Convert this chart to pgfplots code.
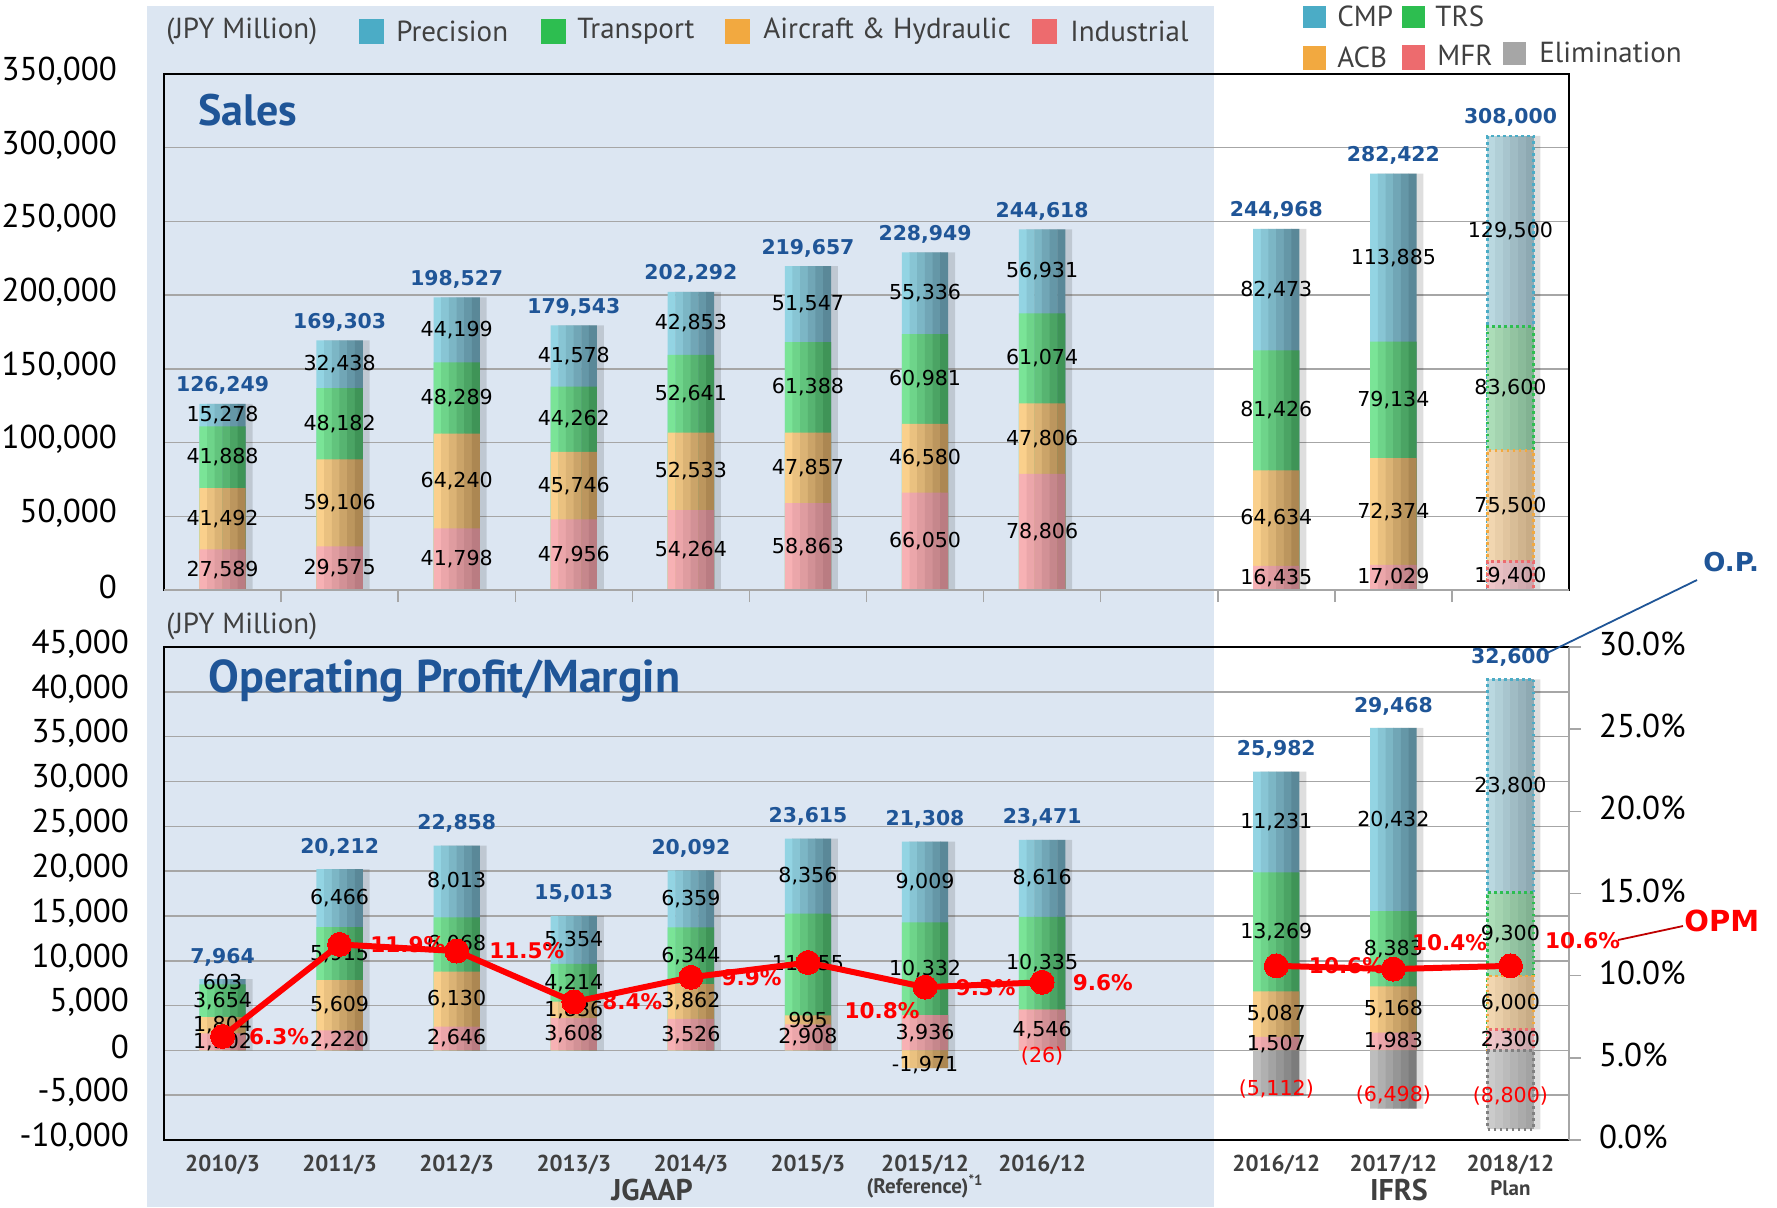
\documentclass[border=0pt]{standalone}
\usepackage{fontspec}
\setmainfont{PT Sans}
\newfontfamily\dv{DejaVu Sans}
\usepackage{pgfplots}
\usepackage{pgfplotstable}
\pgfplotsset{compat=1.18}

\definecolor{bgblue}{HTML}{DCE6F2}
\definecolor{ttl}{HTML}{1F5597}
\definecolor{txt}{HTML}{404040}
\definecolor{gridgray}{HTML}{A6A6A6}
\definecolor{cB}{HTML}{4BACC6}
\definecolor{cG}{HTML}{2DBE50}
\definecolor{cO}{HTML}{F2A940}
\definecolor{cR}{HTML}{ED6B6E}
\definecolor{cE}{HTML}{A6A6A6}
% bar gradients (left -> right)
\definecolor{bBl}{HTML}{93D4E3}\definecolor{bBr}{HTML}{5A8898}
\definecolor{bGl}{HTML}{7AE497}\definecolor{bGr}{HTML}{3F9457}
\definecolor{bOl}{HTML}{FAD08C}\definecolor{bOr}{HTML}{AC8752}
\definecolor{bRl}{HTML}{F7B1B4}\definecolor{bRr}{HTML}{BA7C82}
\definecolor{bEl}{HTML}{BDBDBD}\definecolor{bEr}{HTML}{7C7C7C}
% plan bars, paler
\definecolor{pBl}{HTML}{BAD8E0}\definecolor{pBr}{HTML}{8EA9B2}
\definecolor{pGl}{HTML}{ACDDB8}\definecolor{pGr}{HTML}{82B292}
\definecolor{pOl}{HTML}{F1D6B0}\definecolor{pOr}{HTML}{C8AC86}
\definecolor{pRl}{HTML}{EFC6C9}\definecolor{pRr}{HTML}{CCA6AB}
\definecolor{pEl}{HTML}{CBCBCB}\definecolor{pEr}{HTML}{A3A3A3}

\newcommand\tickfont{\fontsize{16.5}{18}\selectfont}
\newcommand\legfont{\fontsize{14.5}{16}\selectfont}
\newcommand\datfont{\dv\fontsize{10.3}{12}\selectfont}
\newcommand\totfont{\dv\bfseries\fontsize{10.2}{12}\selectfont}
\newcommand\pctfont{\dv\bfseries\fontsize{10.8}{12}\selectfont}

\pgfkeys{/pgf/number format/.cd, fixed, precision=0, 1000 sep={,}, assume math mode=true}

\pgfplotsset{
  lab/.style={draw=none, mark=none, nodes near coords, point meta=explicit,
    every node near coord/.append style={font=\datfont, text=black, anchor=center}},
  totlab/.style={draw=none, mark=none, nodes near coords, point meta=explicit,
    every node near coord/.append style={font=\totfont, text=ttl, anchor=south}},
  shadow/.style={ybar, bar width=23pt, bar shift=3.5pt, draw=none, fill=black, fill opacity=0.13},
  planedge/.style={ybar, bar width=23pt, bar shift=0pt, fill=none, draw=#1,
    line width=1.4pt, dash pattern=on 1.4pt off 1.6pt},
}

% a bar drawn as six vertical strips, light on the left, dark on the right
% #1 left colour, #2 right colour, #3 plot options, #4 table spec and table
\newcommand\gbar[4]{%
  \pgfplotsinvokeforeach{0,20,40,60,80,100}{%
    \addplot[ybar, draw=none, bar width=4pt, bar shift={(##1*0.05-2.5)*3.8333pt},
      fill=#2!##1!#1, #3] #4;
  }%
}

% sales by segment, JPY million (x = slot; 8 is the gap, 11 is the plan)
\pgfplotstableread{
x  mfr   acb   trs   cmp    tot
0  27589 41492 41888 15278  126249
1  29575 59106 48182 32438  169303
2  41798 64240 48289 44199  198527
3  47956 45746 44262 41578  179543
4  54264 52533 52641 42853  202292
5  58863 47857 61388 51547  219657
6  66050 46580 60981 55336  228949
7  78806 47806 61074 56931  244618
9  16435 64634 81426 82473  244968
10 17029 72374 79134 113885 282422
11 19400 75500 83600 129500 308000
}\sales

% operating profit by segment
\pgfplotstableread{
x  mfr  acb   trs   cmp   tot
0  1902 1804  3654  603   7964
1  2220 5609  5915  6466  20212
2  2646 6130  6068  8013  22858
3  3608 1836  4214  5354  15013
4  3526 3862  6344  6359  20092
5  2908 995   11355 8356  23615
6  3936 -1971 10332 9009  21308
7  4546 -26   10335 8616  23471
9  1507 5087  13269 11231 25982
10 1983 5168  8383  20432 29468
11 2300 6000  9300  23800 32600
}\op

\pgfplotstableread{
x v     lab
6 -1971 {-1,971}
7 -26   {(26)}
}\acbneg

\pgfplotstableread{
x  v     lab
9  -5112 {(5,112)}
10 -6498 {(6,498)}
11 -8800 {(8,800)}
}\elim

% operating margin, %
\pgfplotstableread{
x  opm  dx dy
0  6.3  10 0
1  11.9 12 0
2  11.5 13 0
3  8.4  11 0
4  9.9  12 0
5  10.8 15 -24
6  9.3  12 0
7  9.6  12 0
8  nan  0  0
9  10.6 13 0
10 10.4 6  13
11 10.6 14 12.5
}\opm

\begin{document}
\begin{tikzpicture}
\path[use as bounding box] (0,0) rectangle (888.5pt,-603.5pt);
\begin{scope}[x=0.5pt,y=-0.5pt]
  \fill[bgblue] (147,6) rectangle (1214,1207);
\end{scope}

% ---------------- Sales ----------------
\begin{axis}[
  at={(82pt,-37pt)}, anchor=north west,
  scale only axis, width=702.5pt, height=258pt,
  xmin=-0.5, xmax=11.5, ymin=0, ymax=350000,
  xtick={0.5,1.5,...,10.5}, xticklabel={\relax}, xtick pos=bottom,
  xtick style={draw=gridgray, line width=0.75pt},
  tick align=outside, major tick length=6pt,
  ytick={0,50000,100000,150000,200000,250000,300000,350000},
  scaled y ticks=false, ytick style={draw=none},
  yticklabel style={font=\tickfont, text=black, xshift=-14pt, yshift=1.5pt},
  ymajorgrids, grid style={draw=gridgray, line width=0.75pt},
  axis line style={black, line width=1.2pt},
  clip=false,
]
\addplot[shadow] table[x=x, y expr={\thisrow{mfr}+\thisrow{acb}+\thisrow{trs}+\thisrow{cmp}}] {\sales};
\gbar{bBl}{bBr}{restrict x to domain=-1:10.5}{table[x=x, y expr={\thisrow{mfr}+\thisrow{acb}+\thisrow{trs}+\thisrow{cmp}}] {\sales}}
\gbar{bGl}{bGr}{restrict x to domain=-1:10.5}{table[x=x, y expr={\thisrow{mfr}+\thisrow{acb}+\thisrow{trs}}] {\sales}}
\gbar{bOl}{bOr}{restrict x to domain=-1:10.5}{table[x=x, y expr={\thisrow{mfr}+\thisrow{acb}}] {\sales}}
\gbar{bRl}{bRr}{restrict x to domain=-1:10.5}{table[x=x, y=mfr] {\sales}}
% plan column: paler, dotted edges
\gbar{pBl}{pBr}{restrict x to domain=10.5:12}{table[x=x, y expr={\thisrow{mfr}+\thisrow{acb}+\thisrow{trs}+\thisrow{cmp}}] {\sales}}
\addplot[planedge=cB, restrict x to domain=10.5:12] table[x=x, y expr={\thisrow{mfr}+\thisrow{acb}+\thisrow{trs}+\thisrow{cmp}}] {\sales};
\gbar{pGl}{pGr}{restrict x to domain=10.5:12}{table[x=x, y expr={\thisrow{mfr}+\thisrow{acb}+\thisrow{trs}}] {\sales}}
\addplot[planedge=cG, restrict x to domain=10.5:12] table[x=x, y expr={\thisrow{mfr}+\thisrow{acb}+\thisrow{trs}}] {\sales};
\gbar{pOl}{pOr}{restrict x to domain=10.5:12}{table[x=x, y expr={\thisrow{mfr}+\thisrow{acb}}] {\sales}}
\addplot[planedge=cO, restrict x to domain=10.5:12] table[x=x, y expr={\thisrow{mfr}+\thisrow{acb}}] {\sales};
\gbar{pRl}{pRr}{restrict x to domain=10.5:12}{table[x=x, y=mfr] {\sales}}
\addplot[planedge=cR, restrict x to domain=10.5:12] table[x=x, y=mfr] {\sales};

\addplot[lab] table[x=x, y expr={\thisrow{mfr}/2}, meta=mfr] {\sales};
\addplot[lab] table[x=x, y expr={\thisrow{mfr}+\thisrow{acb}/2}, meta=acb] {\sales};
\addplot[lab] table[x=x, y expr={\thisrow{mfr}+\thisrow{acb}+\thisrow{trs}/2}, meta=trs] {\sales};
\addplot[lab] table[x=x, y expr={\thisrow{mfr}+\thisrow{acb}+\thisrow{trs}+\thisrow{cmp}/2}, meta=cmp] {\sales};
\addplot[totlab, every node near coord/.append style={yshift=1pt}]
  table[x=x, y expr={\thisrow{mfr}+\thisrow{acb}+\thisrow{trs}+\thisrow{cmp}}, meta=tot] {\sales};

\draw[gridgray, line width=1.2pt] (rel axis cs:0,0) -- (rel axis cs:1,0);
\end{axis}

% ---------------- Operating profit ----------------
\begin{axis}[
  at={(82pt,-323.5pt)}, anchor=north west,
  scale only axis, width=702.5pt, height=246.5pt,
  xmin=-0.5, xmax=11.5, ymin=-10000, ymax=45000,
  xtick={0,1,2,3,4,5,6,7,9,10,11},
  xticklabels={2010/3,2011/3,2012/3,2013/3,2014/3,2015/3,
    {2015/12\\[-2pt]{\fontsize{10.5}{11}\selectfont(Reference)\textsuperscript{*1}}},
    2016/12,2016/12,2017/12,{2018/12\\[-1pt]{\fontsize{10.5}{11}\selectfont Plan}}},
  xticklabel style={font=\bfseries\fontsize{11.5}{13}\selectfont, text=txt, align=center, yshift=-4pt},
  xtick style={draw=none},
  ytick={-10000,-5000,0,5000,10000,15000,20000,25000,30000,35000,40000,45000},
  scaled y ticks=false, ytick style={draw=none},
  yticklabel style={font=\tickfont, text=black, xshift=-14pt, yshift=1.5pt},
  ymajorgrids, grid style={draw=gridgray, line width=0.75pt},
  axis line style={black, line width=1.2pt},
  clip=false,
]
\addplot[shadow] table[x=x, y expr={\thisrow{mfr}+max(\thisrow{acb},0)+\thisrow{trs}+\thisrow{cmp}}] {\op};
\addplot[shadow] table[x=x, y=v] {\elim};
\addplot[shadow] table[x=x, y=v] {\acbneg};
\gbar{bBl}{bBr}{restrict x to domain=-1:10.5}{table[x=x, y expr={\thisrow{mfr}+max(\thisrow{acb},0)+\thisrow{trs}+\thisrow{cmp}}] {\op}}
\gbar{bGl}{bGr}{restrict x to domain=-1:10.5}{table[x=x, y expr={\thisrow{mfr}+max(\thisrow{acb},0)+\thisrow{trs}}] {\op}}
\gbar{bOl}{bOr}{restrict x to domain=-1:10.5}{table[x=x, y expr={\thisrow{mfr}+max(\thisrow{acb},0)}] {\op}}
\gbar{bRl}{bRr}{restrict x to domain=-1:10.5}{table[x=x, y=mfr] {\op}}
% negative parts, down from zero
\gbar{bOl}{bOr}{}{table[x=x, y=v] {\acbneg}}
\gbar{bEl}{bEr}{restrict x to domain=-1:10.5}{table[x=x, y=v] {\elim}}
% plan column
\gbar{pBl}{pBr}{restrict x to domain=10.5:12}{table[x=x, y expr={\thisrow{mfr}+\thisrow{acb}+\thisrow{trs}+\thisrow{cmp}}] {\op}}
\addplot[planedge=cB, restrict x to domain=10.5:12] table[x=x, y expr={\thisrow{mfr}+\thisrow{acb}+\thisrow{trs}+\thisrow{cmp}}] {\op};
\gbar{pGl}{pGr}{restrict x to domain=10.5:12}{table[x=x, y expr={\thisrow{mfr}+\thisrow{acb}+\thisrow{trs}}] {\op}}
\addplot[planedge=cG, restrict x to domain=10.5:12] table[x=x, y expr={\thisrow{mfr}+\thisrow{acb}+\thisrow{trs}}] {\op};
\gbar{pOl}{pOr}{restrict x to domain=10.5:12}{table[x=x, y expr={\thisrow{mfr}+\thisrow{acb}}] {\op}}
\addplot[planedge=cO, restrict x to domain=10.5:12] table[x=x, y expr={\thisrow{mfr}+\thisrow{acb}}] {\op};
\gbar{pRl}{pRr}{restrict x to domain=10.5:12}{table[x=x, y=mfr] {\op}}
\addplot[planedge=cR, restrict x to domain=10.5:12] table[x=x, y=mfr] {\op};
\gbar{pEl}{pEr}{restrict x to domain=10.5:12}{table[x=x, y=v] {\elim}}
\addplot[planedge=gray, restrict x to domain=10.5:12] table[x=x, y=v] {\elim};

\addplot[lab] table[x=x, y expr={\thisrow{mfr}/2}, meta=mfr] {\op};
\addplot[lab, restrict x to domain=-1:5.5] table[x=x, y expr={\thisrow{mfr}+\thisrow{acb}/2}, meta=acb] {\op};
\addplot[lab, restrict x to domain=8:12] table[x=x, y expr={\thisrow{mfr}+\thisrow{acb}/2}, meta=acb] {\op};
\addplot[lab] table[x=x, y expr={\thisrow{mfr}+max(\thisrow{acb},0)+\thisrow{trs}/2}, meta=trs] {\op};
\addplot[lab] table[x=x, y expr={\thisrow{mfr}+max(\thisrow{acb},0)+\thisrow{trs}+\thisrow{cmp}/2}, meta=cmp] {\op};
\addplot[lab, point meta=explicit symbolic, nodes near coords={\pgfplotspointmeta},
  restrict x to domain=5.5:6.5, every node near coord/.append style={yshift=-3pt}]
  table[x=x, y expr={\thisrow{v}/2}, meta=lab] {\acbneg};
\addplot[lab, point meta=explicit symbolic, nodes near coords={\pgfplotspointmeta},
  restrict x to domain=6.5:7.5, every node near coord/.append style={text=red, yshift=-3pt}]
  table[x=x, y expr={\thisrow{v}/2}, meta=lab] {\acbneg};
\addplot[lab, point meta=explicit symbolic, nodes near coords={\pgfplotspointmeta},
  restrict x to domain=8:10.5, every node near coord/.append style={text=red, yshift=-8pt}]
  table[x=x, y expr={\thisrow{v}/2}, meta=lab] {\elim};
\addplot[lab, point meta=explicit symbolic, nodes near coords={\pgfplotspointmeta},
  restrict x to domain=10.5:12, every node near coord/.append style={text=red, yshift=-3pt}]
  table[x=x, y expr={\thisrow{v}/2}, meta=lab] {\elim};
\addplot[totlab, every node near coord/.append style={yshift=3pt}]
  table[x=x, y expr={\thisrow{mfr}+max(\thisrow{acb},0)+\thisrow{trs}+\thisrow{cmp}}, meta=tot] {\op};
\end{axis}

% ---------------- Operating margin (right axis) ----------------
\begin{axis}[
  at={(82pt,-323.5pt)}, anchor=north west,
  scale only axis, width=702.5pt, height=246.5pt,
  xmin=-0.5, xmax=11.5, ymin=0, ymax=30,
  axis x line=none, axis y line*=right,
  ytick={0,5,10,15,20,25,30},
  yticklabel={\pgfmathprintnumber[fixed,fixed zerofill,precision=1]{\tick}\%},
  yticklabel style={font=\tickfont, text=black, xshift=5.5pt, yshift=1.5pt},
  y axis line style={-, draw=gridgray, line width=1.2pt},
  ytick style={draw=gridgray, line width=0.75pt},
  tick align=outside, major tick length=6pt,
  unbounded coords=jump, clip=false,
]
\addplot[draw=red, line width=3pt, mark=*, mark size=6pt,
  mark options={fill=red, draw=red, line width=0pt},
  nodes near coords={\pgfmathprintnumber[fixed,fixed zerofill,precision=1]{\pgfplotspointmeta}\%},
  point meta=y,
  visualization depends on={\thisrow{dx} \as \mydx},
  visualization depends on={\thisrow{dy} \as \mydy},
  every node near coord/.append style={font=\pctfont, text=red, anchor=west,
    xshift={\mydx*1pt}, yshift={\mydy*1pt}},
] table[x=x, y=opm] {\opm};
\end{axis}

% ---------------- legends, titles, notes ----------------
\begin{scope}[x=0.5pt,y=-0.5pt]
  \tikzset{lg/.style={anchor=west, text=txt, font=\legfont, inner sep=0pt}}
  \node[lg] at (166,31) {(JPY Million)};
  \fill[cB] (359,19) rectangle (384,44);   \node[lg] at (396,31) {Precision};
  \fill[cG] (541,19) rectangle (566,44);   \node[lg] at (577,31) {Transport};
  \fill[cO] (725,19) rectangle (750,44);   \node[lg] at (763,31) {Aircraft \& Hydraulic};
  \fill[cR] (1032,19) rectangle (1057,44); \node[lg] at (1070,31) {Industrial};

  \fill[cB] (1303,6) rectangle (1326,28);  \node[lg] at (1337,16) {CMP};
  \fill[cG] (1402,6) rectangle (1425,28);  \node[lg] at (1435,16) {TRS};
  \fill[cO] (1303,46) rectangle (1326,70); \node[lg] at (1337,57) {ACB};
  \fill[cR] (1402,45) rectangle (1425,70); \node[lg] at (1437,55) {MFR};
  \fill[cE] (1503,42) rectangle (1526,65); \node[lg] at (1539,52) {Elimination};

  \node[anchor=west, inner sep=0pt, text=ttl, font=\bfseries\fontsize{22}{24}\selectfont] at (198,110) {Sales};
  \node[anchor=west, inner sep=0pt, text=ttl, font=\bfseries\fontsize{23}{25}\selectfont] at (208,681) {Operating Profit/Margin};
  \node[lg] at (166,626) {(JPY Million)};

  \node[text=txt, font=\bfseries\fontsize{15}{17}\selectfont] at (652,1190) {JGAAP};
  \node[text=txt, font=\bfseries\fontsize{15}{17}\selectfont] at (1399,1190) {IFRS};

  \draw[ttl, line width=0.9pt] (1697,580) -- (1545,654);
  \node[anchor=west, inner sep=0pt, text=ttl, font=\dv\bfseries\fontsize{13}{15}\selectfont] at (1703,562) {O.P.};
  \draw[red!75!black, line width=0.9pt] (1683,926) -- (1618,940);
  \node[anchor=west, inner sep=0pt, text=red, font=\dv\bfseries\fontsize{14.5}{16}\selectfont] at (1684,921) {OPM};
\end{scope}
\end{tikzpicture}
\end{document}
